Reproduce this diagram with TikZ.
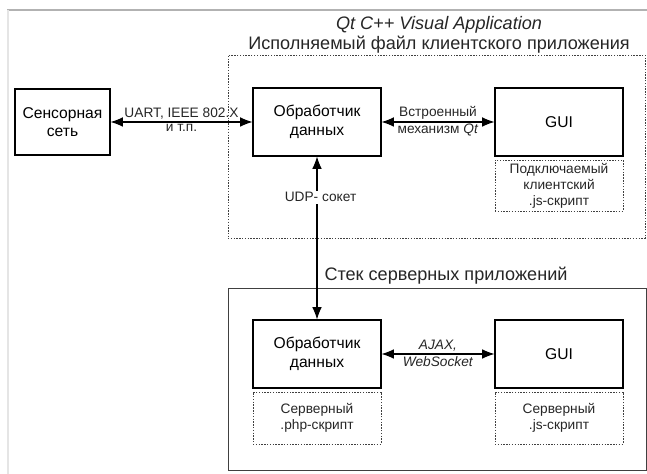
\documentclass[tikz,border=0pt]{standalone}
\usepackage{fontspec}
\setmainfont{Liberation Sans}
\usetikzlibrary{
  arrows.meta,
  positioning}

\tikzset{
  block/.style={draw, line width=0.6pt, minimum width=2.56cm, minimum height=1.36cm,
    align=center, font=\fontsize{8.9}{10.6}\selectfont},
  script/.style={draw, black!75, text=black!85, dash pattern=on 0.8pt off 0.8pt, line width=0.5pt,
    minimum width=2.56cm, minimum height=1.02cm, inner sep=1pt,
    align=center, font=\fontsize{7.8}{9.1}\selectfont},
  frame/.style={draw, black!75, line width=0.5pt},
  lbl/.style={font=\fontsize{7.8}{9}\selectfont, inner sep=1pt, text=black!85},
  head/.style={font=\fontsize{10.3}{11.4}\selectfont, align=center, text=black!85},
  link/.style={{Latex[length=7pt,width=5.5pt]}-{Latex[length=7pt,width=5.5pt]}, line width=0.6pt}
}

\begin{document}
\begin{tikzpicture}
\useasboundingbox (0,0) rectangle (12.94,9.48);
\draw[black!30, line width=1.2pt] (0.14,9.28) -- (12.94,9.28);
\draw[black!10, line width=1.2pt] (0.16,9.28) -- (0.16,0);

\node[frame, dash pattern=on 0.8pt off 0.8pt, minimum width=8.34cm, minimum height=3.66cm] (client) at (8.73,6.55) {};
\node[head] (clienttitle) at (8.78,8.78) {\textit{Qt C++ Visual Application}\\Исполняемый файл клиентского приложения};
\node[frame, minimum width=8.36cm, minimum height=3.64cm] (server) at (8.74,1.90) {};
\node[head] (servertitle) at (8.92,3.96) {Стек серверных приложений};

\node[block, minimum width=1.9cm, minimum height=1.32cm] (sensor) at (1.25,7.04) {Сенсорная\\сеть};
\node[block] (proc) at (6.34,7.04) {Обработчик\\данных};
\node[block] (gui) at (11.18,7.04) {GUI};
\node[script, below=0.06cm of gui] (guijs) {Подключаемый\\клиентский\\.js-скрипт};

\node[block] (sproc) at (6.34,2.40) {Обработчик\\данных};
\node[block] (sgui) at (11.18,2.40) {GUI};
\node[script, minimum height=1.04cm, below=0.06cm of sproc] (sprocphp) {Серверный\\.php-скрипт};
\node[script, minimum height=1.04cm, below=0.06cm of sgui] (sguijs) {Серверный\\.js-скрипт};

\draw[link] (sensor.east) -- (proc.west)
  node[midway, above, lbl] {UART, IEEE 802.X} node[midway, below, lbl] {и т.п.};
\draw[link] (proc) -- (gui)
  node[midway, above, lbl] {Встроенный} node[midway, below, lbl] {механизм \textit{Qt}};
\draw[link] (proc) -- (sproc)
  node[pos=0.25, lbl, fill=white, xshift=2pt] {UDP- сокет};
\draw[link] (sproc) -- (sgui)
  node[midway, above, lbl] {\textit{AJAX,}} node[midway, below, lbl] {\textit{WebSocket}};
\end{tikzpicture}
\end{document}
